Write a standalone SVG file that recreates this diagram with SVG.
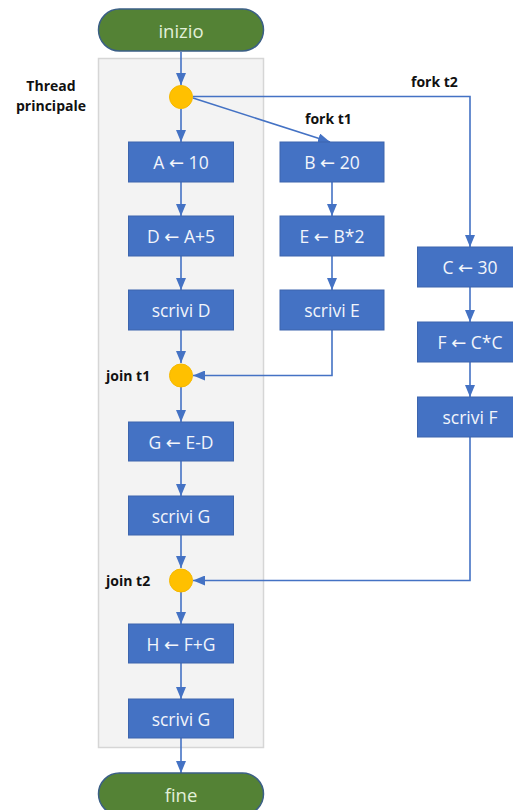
<svg xmlns="http://www.w3.org/2000/svg" width="513" height="810" viewBox="0 0 513 810">
<style>
.term{fill:#548235;stroke:#3b5f86;stroke-width:1.5}
.tt{fill:#E2F0D9;font-family:"Open Sans","Liberation Sans",sans-serif;font-size:18.5px;text-anchor:middle;dominant-baseline:central}
.box{fill:#4472C4;stroke:#3d65ad;stroke-width:1}
.bt{fill:#F2F5FB;font-family:"Open Sans","Liberation Sans",sans-serif;font-size:17.5px;text-anchor:middle;dominant-baseline:central}
.ar{font-family:"DejaVu Sans",sans-serif;font-size:18px}
.dot{fill:#FFC000;stroke:#f5b800;stroke-width:1}
.lbl{fill:#111;font-family:"Open Sans","Liberation Sans",sans-serif;font-size:14px;font-weight:bold;dominant-baseline:central}
.ln{fill:none;stroke:#4472C4;stroke-width:1.6}
</style>
<defs>
<marker id="ah" viewBox="0 0 12 10" refX="12" refY="5" markerWidth="12" markerHeight="10" markerUnits="userSpaceOnUse" orient="auto">
<path d="M0,0 L12,5 L0,10 Z" fill="#4472C4"/>
</marker>
</defs>
<rect id="thread" x="98.5" y="58.5" width="165" height="689" fill="#F3F3F3" stroke="#D6D6D6" stroke-width="1.5"/>
<g id="connectors">
<line class="ln" x1="181" y1="52" x2="181" y2="85" marker-end="url(#ah)"/>
<line class="ln" x1="181" y1="109" x2="181" y2="142" marker-end="url(#ah)"/>
<line class="ln" x1="193" y1="98" x2="330" y2="142" marker-end="url(#ah)"/>
<polyline class="ln" points="193,96.5 470,96.5 470,247" marker-end="url(#ah)"/>
<line class="ln" x1="181" y1="182" x2="181" y2="216" marker-end="url(#ah)"/>
<line class="ln" x1="181" y1="256" x2="181" y2="290" marker-end="url(#ah)"/>
<line class="ln" x1="181" y1="330" x2="181" y2="363" marker-end="url(#ah)"/>
<line class="ln" x1="332" y1="182" x2="332" y2="216" marker-end="url(#ah)"/>
<line class="ln" x1="332" y1="256" x2="332" y2="290" marker-end="url(#ah)"/>
<polyline class="ln" points="332,330 332,375.5 193,375.5" marker-end="url(#ah)"/>
<line class="ln" x1="470" y1="287" x2="470" y2="322" marker-end="url(#ah)"/>
<line class="ln" x1="470" y1="362" x2="470" y2="397" marker-end="url(#ah)"/>
<polyline class="ln" points="470,437 470,580.5 193,580.5" marker-end="url(#ah)"/>
<line class="ln" x1="181" y1="387" x2="181" y2="422" marker-end="url(#ah)"/>
<line class="ln" x1="181" y1="461" x2="181" y2="496" marker-end="url(#ah)"/>
<line class="ln" x1="181" y1="535" x2="181" y2="568" marker-end="url(#ah)"/>
<line class="ln" x1="181" y1="592" x2="181" y2="624" marker-end="url(#ah)"/>
<line class="ln" x1="181" y1="663" x2="181" y2="699" marker-end="url(#ah)"/>
<line class="ln" x1="181" y1="738" x2="181" y2="773" marker-end="url(#ah)"/>
</g>
<g id="inizio"><rect class="term" x="98.5" y="9" width="165" height="42" rx="21"/><text class="tt" x="181" y="30">inizio</text></g>
<g id="fine"><rect class="term" x="98.5" y="773" width="165" height="42" rx="21"/><text class="tt" x="181" y="794">fine</text></g>
<g id="label-thread"><text class="lbl" x="51" y="85" text-anchor="middle">Thread</text><text class="lbl" x="51" y="105" text-anchor="middle">principale</text></g>
<g id="fork"><circle class="dot" cx="181" cy="97" r="11.5"/></g>
<g id="label-fork-t1"><text class="lbl" x="305" y="118">fork t1</text></g>
<g id="label-fork-t2"><text class="lbl" x="411" y="81">fork t2</text></g>
<g id="A"><rect class="box" x="128.5" y="142" width="105" height="40"/><text class="bt" x="181" y="162">A <tspan class="ar">←</tspan> 10</text></g>
<g id="D"><rect class="box" x="128.5" y="216" width="105" height="40"/><text class="bt" x="181" y="236">D <tspan class="ar">←</tspan> A+5</text></g>
<g id="scriviD"><rect class="box" x="128.5" y="290" width="105" height="40"/><text class="bt" x="181" y="310">scrivi D</text></g>
<g id="B"><rect class="box" x="280" y="142" width="104" height="40"/><text class="bt" x="332" y="162">B <tspan class="ar">←</tspan> 20</text></g>
<g id="E"><rect class="box" x="280" y="216" width="104" height="40"/><text class="bt" x="332" y="236">E <tspan class="ar">←</tspan> B*2</text></g>
<g id="scriviE"><rect class="box" x="280" y="290" width="104" height="40"/><text class="bt" x="332" y="310">scrivi E</text></g>
<g id="C"><rect class="box" x="417.5" y="247" width="105" height="40"/><text class="bt" x="470" y="267">C <tspan class="ar">←</tspan> 30</text></g>
<g id="F"><rect class="box" x="417.5" y="322" width="105" height="40"/><text class="bt" x="470" y="342">F <tspan class="ar">←</tspan> C*C</text></g>
<g id="scriviF"><rect class="box" x="417.5" y="397" width="105" height="40"/><text class="bt" x="470" y="417">scrivi F</text></g>
<g id="join1"><circle class="dot" cx="181" cy="375.5" r="11.5"/><text class="lbl" x="106" y="375">join t1</text></g>
<g id="G"><rect class="box" x="128.5" y="422" width="105" height="39"/><text class="bt" x="181" y="441.5">G <tspan class="ar">←</tspan> E-D</text></g>
<g id="scriviG1"><rect class="box" x="128.5" y="496" width="105" height="39"/><text class="bt" x="181" y="515.5">scrivi G</text></g>
<g id="join2"><circle class="dot" cx="181" cy="580.5" r="11.5"/><text class="lbl" x="106" y="580">join t2</text></g>
<g id="H"><rect class="box" x="128.5" y="624" width="105" height="39"/><text class="bt" x="181" y="643.5">H <tspan class="ar">←</tspan> F+G</text></g>
<g id="scriviG2"><rect class="box" x="128.5" y="699" width="105" height="39"/><text class="bt" x="181" y="718.5">scrivi G</text></g>
</svg>
